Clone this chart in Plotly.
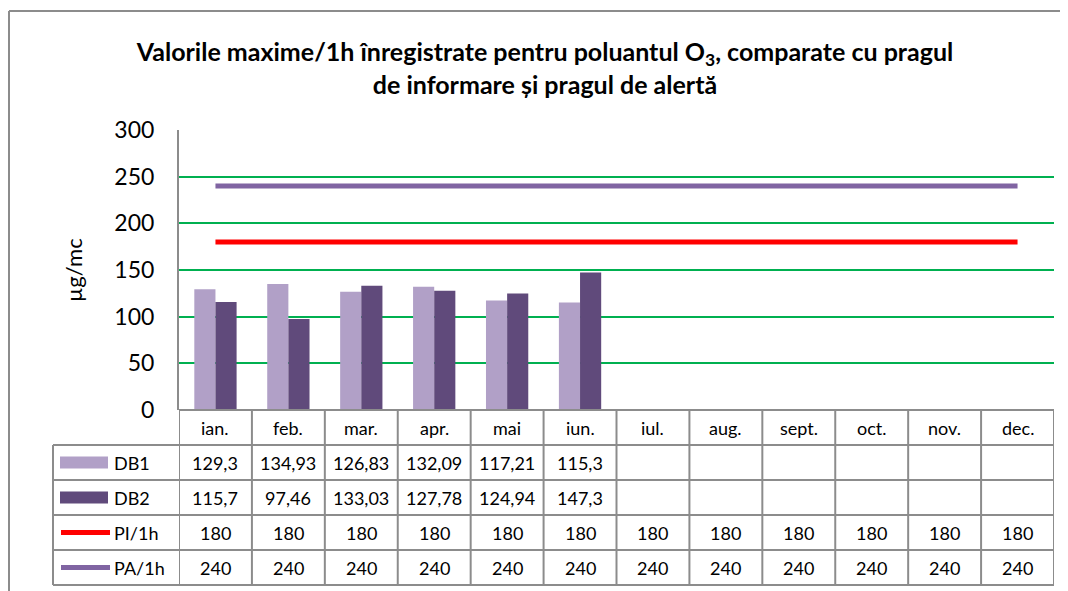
import plotly.graph_objects as go

# données
luni = ['ian.', 'feb.', 'mar.', 'apr.', 'mai', 'iun.', 'iul.', 'aug.', 'sept.', 'oct.', 'nov.', 'dec.']
db1 = [129.3, 134.93, 126.83, 132.09, 117.21, 115.3, None, None, None, None, None, None]
db2 = [115.7, 97.46, 133.03, 127.78, 124.94, 147.3, None, None, None, None, None, None]
pi_1h = [180] * 12
pa_1h = [240] * 12

serii = ['DB1', 'DB2', 'PI/1h', 'PA/1h']
valori = [db1, db2, pi_1h, pa_1h]

# la page a une marge de 8px : la figure commence à (8, 8)
OFF = 8
W, H = 1068 - OFF, 591 - OFF
FONT = 'Lato'
GRI = '#8c8c8c'


def px_x(p):
    return (p - OFF) / W


def px_y(p):
    return 1 - (p - OFF) / H


# zone du graphique en pixels (coordonnées de l'image de référence)
x0, x1 = 179, 1054
y_top, y_bot = 130, 410
randuri = [410, 445, 480, 515, 550, 585]  # limites des lignes du tableau
col_leg = 53

fig = go.Figure()
fig.add_trace(go.Bar(x=luni, y=db1, name='DB1', marker=dict(color='#B1A0C7', line=dict(width=0))))
fig.add_trace(go.Bar(x=luni, y=db2, name='DB2', marker=dict(color='#604A7B', line=dict(width=0))))
fig.add_trace(go.Scatter(x=luni, y=pi_1h, name='PI/1h', mode='lines', line=dict(color='#FF0000', width=5)))
fig.add_trace(go.Scatter(x=luni, y=pa_1h, name='PA/1h', mode='lines', line=dict(color='#8064A2', width=5)))

shapes = []
ann = []

# bordure extérieure
shapes.append(dict(type='line', xref='paper', yref='paper', x0=px_x(9), x1=px_x(9), y0=px_y(11), y1=0,
                   line=dict(color=GRI, width=2)))
shapes.append(dict(type='line', xref='paper', yref='paper', x0=px_x(9), x1=1, y0=px_y(11), y1=px_y(11),
                   line=dict(color=GRI, width=2)))

# tableau: lignes horizontales
shapes.append(dict(type='line', xref='paper', yref='paper', x0=px_x(x0), x1=px_x(x1),
                   y0=px_y(randuri[0]), y1=px_y(randuri[0]), line=dict(color=GRI, width=2)))
for r in randuri[1:]:
    shapes.append(dict(type='line', xref='paper', yref='paper', x0=px_x(col_leg), x1=px_x(x1),
                       y0=px_y(r), y1=px_y(r), line=dict(color=GRI, width=2)))
# tableau: lignes verticales (alignées sur les catégories)
for i in range(len(luni) + 1):
    shapes.append(dict(type='line', xref='x', yref='paper', x0=i - 0.5, x1=i - 0.5,
                       y0=px_y(randuri[0]), y1=px_y(randuri[-1]), line=dict(color=GRI, width=2)))
shapes.append(dict(type='line', xref='paper', yref='paper', x0=px_x(col_leg), x1=px_x(col_leg),
                   y0=px_y(randuri[1]), y1=px_y(randuri[-1]), line=dict(color=GRI, width=2)))

# en-tête des mois
for i, luna in enumerate(luni):
    ann.append(dict(x=i, xref='x', y=px_y((randuri[0] + randuri[1]) / 2), yref='paper', text=luna,
                    showarrow=False, yanchor='middle', font=dict(family=FONT, size=18, color='#000')))

# valeurs du tableau
for k, (nume, serie) in enumerate(zip(serii, valori)):
    yc = px_y((randuri[k + 1] + randuri[k + 2]) / 2)
    for i, v in enumerate(serie):
        if v is None:
            continue
        ann.append(dict(x=i, xref='x', y=yc, yref='paper', text=f'{v:g}'.replace('.', ','),
                        showarrow=False, yanchor='middle', font=dict(family=FONT, size=18, color='#000')))
    ann.append(dict(x=px_x(112), xref='paper', y=yc, yref='paper', text=nume, xanchor='left',
                    yanchor='middle', showarrow=False, font=dict(family=FONT, size=18, color='#000')))

# clés de légende
yc = (randuri[1] + randuri[2]) / 2
shapes.append(dict(type='rect', xref='paper', yref='paper', x0=px_x(60), x1=px_x(108),
                   y0=px_y(yc - 6), y1=px_y(yc + 6), fillcolor='#B1A0C7', line=dict(width=0)))
yc = (randuri[2] + randuri[3]) / 2
shapes.append(dict(type='rect', xref='paper', yref='paper', x0=px_x(60), x1=px_x(108),
                   y0=px_y(yc - 6), y1=px_y(yc + 6), fillcolor='#604A7B', line=dict(width=0)))
for k, c in [(3, '#FF0000'), (4, '#8064A2')]:
    yc = (randuri[k] + randuri[k + 1]) / 2
    shapes.append(dict(type='line', xref='paper', yref='paper', x0=px_x(61), x1=px_x(110),
                       y0=px_y(yc), y1=px_y(yc), line=dict(color=c, width=5)))

# titre de l'axe Y
ann.append(dict(x=px_x(73), xref='paper', y=px_y(270), yref='paper', text='µg/mc', textangle=-90,
                showarrow=False, xanchor='center', yanchor='middle',
                font=dict(family=FONT, size=22, color='#000')))

fig.update_layout(
    width=W, height=H,
    margin=dict(l=0, r=0, t=0, b=0, autoexpand=False),
    paper_bgcolor='white', plot_bgcolor='white',
    showlegend=False,
    barmode='group', bargap=0.42, bargroupgap=0,
    title=dict(text='<b>Valorile maxime/1h înregistrate pentru poluantul O<sub>3</sub>, comparate cu pragul'
                    '<br>de informare și pragul de alertă</b>',
               x=px_x(545), xanchor='center', y=px_y(61), yanchor='middle',
               font=dict(family=FONT, size=25, color='#000')),
    xaxis=dict(domain=[px_x(x0), px_x(x1)], range=[-0.5, 11.5], showticklabels=False, automargin=False,
               showgrid=False, zeroline=False, showline=False, fixedrange=True),
    yaxis=dict(domain=[px_y(y_bot), px_y(y_top)], range=[0, 300], dtick=50, automargin=False,
               showgrid=True, gridcolor='#00B050', gridwidth=2, zeroline=False,
               showline=True, linecolor=GRI, linewidth=2, ticks='', ticklabelstandoff=18,
               tickfont=dict(family=FONT, size=23, color='#000')),
    shapes=shapes,
    annotations=ann,
)

fig.write_html('out.html')
